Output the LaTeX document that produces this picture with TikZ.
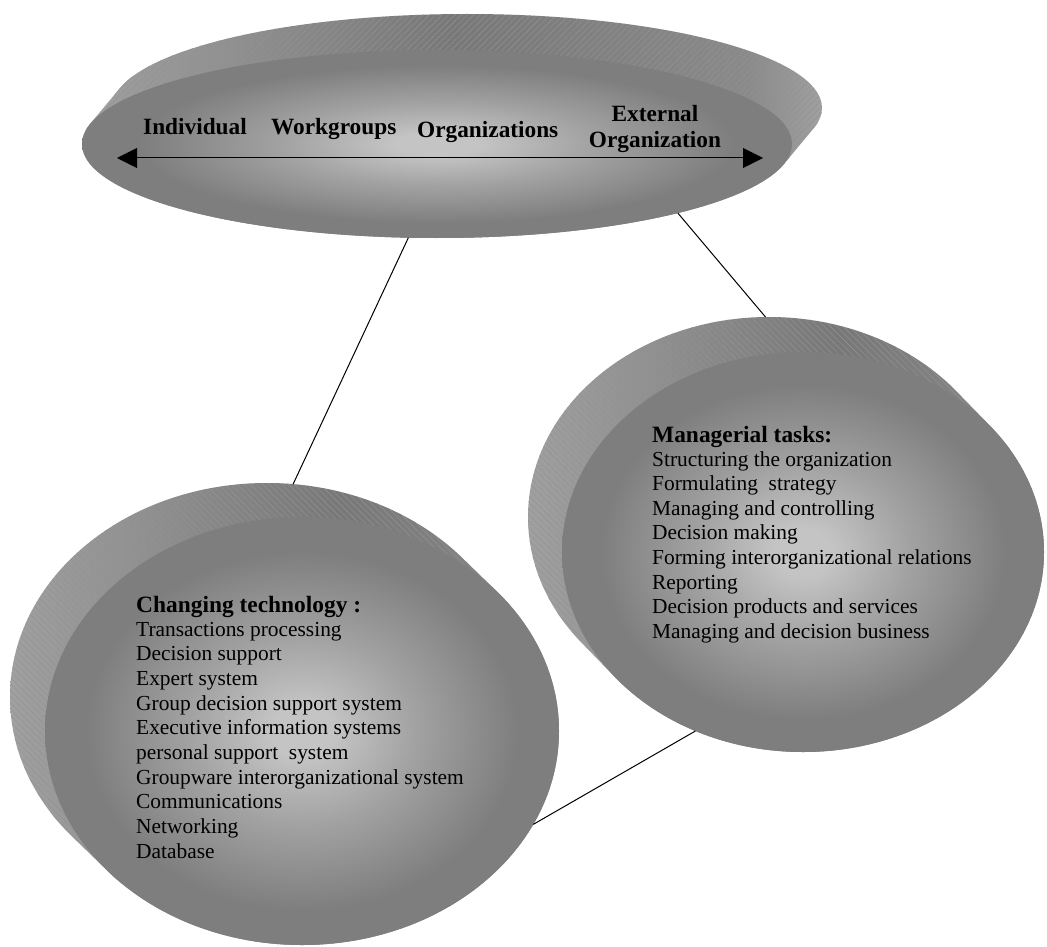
\documentclass[tikz,border=0pt]{standalone}
\usepackage{fontspec}
\setmainfont{Liberation Serif}
\usetikzlibrary{shapes.geometric,arrows.meta,patterns.meta}
\definecolor{faceedge}{HTML}{7E7E7E}
\definecolor{facemid}{HTML}{A2A2A2}
\definecolor{facecenter}{HTML}{C4C4C4}
\definecolor{bandlight}{HTML}{A0A0A0}
\definecolor{bandmid}{HTML}{8A8A8A}
\definecolor{banddark}{HTML}{787878}
\definecolor{hatchgray}{HTML}{939393}
\pgfdeclareradialshading{disc}{\pgfpoint{0bp}{0bp}}{color(0bp)=(facecenter); color(3bp)=(facecenter); color(11bp)=(facemid); color(21bp)=(faceedge); color(50bp)=(faceedge)}
\pgfdeclarehorizontalshading{topband}{100bp}{color(0bp)=(bandlight); color(25bp)=(bandlight); color(50bp)=(banddark); color(70bp)=(bandmid); color(75bp)=(bandlight); color(100bp)=(bandlight)}
\pgfdeclarehorizontalshading{sideband}{100bp}{color(0bp)=(bandlight); color(25bp)=(bandlight); color(55bp)=(banddark); color(75bp)=(bandmid); color(100bp)=(bandmid)}
\tikzset{
  face/.style={ellipse, inner sep=0pt, outer sep=0pt, shading=disc},
  ghost/.style={ellipse, inner sep=0pt, outer sep=0pt},
  hatchR/.style={pattern={Lines[angle=45,distance=4.5pt,line width=0.45pt]}, pattern color=hatchgray},
  hatchL/.style={pattern={Lines[angle=-45,distance=4.5pt,line width=0.45pt]}, pattern color=hatchgray},
  lab/.style={font=\bfseries\fontsize{23.3pt}{27pt}\selectfont, inner sep=0pt},
  head/.style={font=\bfseries\fontsize{23.4pt}{27pt}\selectfont, inner sep=0pt, anchor=base west},
  body/.style={font=\fontsize{21.4pt}{24.6pt}\selectfont, inner sep=0pt, anchor=base west},
  conn/.style={draw=black, line width=1pt},
  twoway/.style={line width=1pt, {Triangle[length=20pt,width=20pt]}-{Triangle[length=20pt,width=20pt]}}
}
\begin{document}
\begin{tikzpicture}[x=1pt,y=-1pt]
\fill[white] (0,0) rectangle (1047,947);
\useasboundingbox (0,0) rectangle (1047,947);

% ---------- top disc ----------
\path[shading=topband] \foreach \k in {0,...,30} {({467-30*\k/30},{108+36*\k/30}) ellipse [x radius=355pt, y radius=94pt]};
\path[hatchR] \foreach \k in {0,...,30} {({467-30*\k/30},{108+36*\k/30}) ellipse [x radius=355pt, y radius=94pt]};
\node[ghost, minimum width=710pt, minimum height=188pt] (tb) at (467,108) {};
\node[face, minimum width=710pt, minimum height=188pt] (tf) at (437,144) {};

% ---------- right disc ----------
\path[shading=sideband] \foreach \k in {0,...,30} {({769+34*\k/30},{517+35*\k/30}) ellipse [x radius=241pt, y radius=200pt]};
\path[hatchL] \foreach \k in {0,...,30} {({769+34*\k/30},{517+35*\k/30}) ellipse [x radius=241pt, y radius=200pt]};
\node[ghost, minimum width=482pt, minimum height=400pt] (rb) at (769,517) {};
\node[face, minimum width=482pt, minimum height=400pt] (rf) at (803,552) {};

% ---------- left disc ----------
\path[shading=sideband] \foreach \k in {0,...,30} {({267+35*\k/30},{697+34*\k/30}) ellipse [x radius=257pt, y radius=214pt]};
\path[hatchL] \foreach \k in {0,...,30} {({267+35*\k/30},{697+34*\k/30}) ellipse [x radius=257pt, y radius=214pt]};
\node[ghost, minimum width=514pt, minimum height=428pt] (lb) at (267,697) {};
\node[face, minimum width=514pt, minimum height=428pt] (lf) at (302,731) {};

% ---------- connectors ----------
\draw[conn] (tf.253) -- (lb.83);
\draw[conn] (tf.344) -- (rb.91);
\draw[conn] (lf.338) -- (rf.239);

% ---------- top labels ----------
\coordinate (aL) at (117,158);
\coordinate (aR) at (763,158);
\draw[twoway] (aL) -- (aR);
\node[lab, anchor=base west] (t1) at (143,135) {Individual};
\node[lab, anchor=base west] (t2) at (271,135) {Workgroups};
\node[lab, anchor=base west] (t3) at (417,138) {Organizations};
\node[lab, anchor=base] (t4) at (655,122) {External};
\node[lab, anchor=base] (t5) at (655,148) {Organization};

% ---------- right text ----------
\node[head] (rh) at (652,442) {Managerial tasks:};
\foreach \t [count=\i] in {Structuring the organization, Formulating\ \ strategy, Managing and controlling, Decision making, Forming interorganizational relations, Reporting, Decision products and services, Managing and decision business}
  \node[body] (r\i) at (652,{466+(\i-1)*24.6}) {\t};

% ---------- left text ----------
\node[head] (lh) at (136,612) {Changing technology :};
\foreach \t [count=\i] in {Transactions processing, Decision support, Expert system, Group decision support system, Executive information systems, personal support\ \ system, Groupware interorganizational system, Communications, Networking, Database}
  \node[body] (l\i) at (136,{636+(\i-1)*24.7}) {\t};
\end{tikzpicture}
\end{document}
